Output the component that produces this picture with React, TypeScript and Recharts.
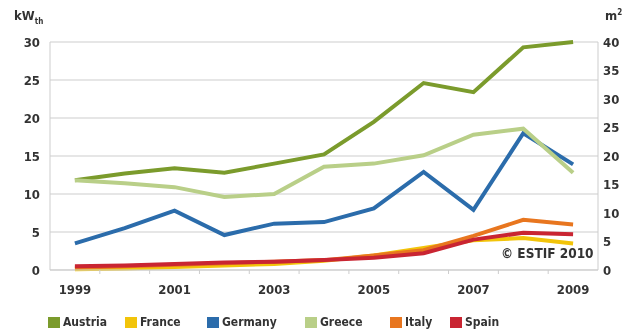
import React from 'react';
import { LineChart, Line, XAxis, YAxis, CartesianGrid } from 'recharts';

// values (left axis, kW_th)
const years = [1999, 2000, 2001, 2002, 2003, 2004, 2005, 2006, 2007, 2008, 2009];
const austria = [11.8, 12.7, 13.4, 12.8, 14.0, 15.2, 19.5, 24.6, 23.4, 29.3, 30.0];
const france = [0.1, 0.2, 0.4, 0.6, 0.8, 1.2, 1.9, 2.9, 3.9, 4.2, 3.5];
const germany = [3.5, 5.5, 7.8, 4.6, 6.1, 6.3, 8.1, 12.9, 7.9, 18.0, 13.9];
const greece = [11.8, 11.4, 10.9, 9.6, 10.0, 13.6, 14.0, 15.1, 17.8, 18.6, 12.8];
const italy = [0.3, 0.5, 0.7, 0.9, 1.1, 1.3, 1.9, 2.6, 4.5, 6.6, 6.0];
const spain = [0.5, 0.6, 0.8, 1.0, 1.1, 1.3, 1.6, 2.2, 4.0, 4.9, 4.7];

const leftTicks = [0, 5, 10, 15, 20, 25, 30];
const rightTicks = [0, 5, 10, 15, 20, 25, 30, 35, 40];
const labelYears = [1999, 2001, 2003, 2005, 2007, 2009];
const boundaryTicks = [1999.5, 2000.5, 2001.5, 2002.5, 2003.5, 2004.5, 2005.5, 2006.5, 2007.5, 2008.5];

const series = [
  { name: 'Austria', values: austria, color: '#7b9b2c' },
  { name: 'France', values: france, color: '#f2c40a' },
  { name: 'Germany', values: germany, color: '#2b6cab' },
  { name: 'Greece', values: greece, color: '#b9cf88' },
  { name: 'Italy', values: italy, color: '#e8761f' },
  { name: 'Spain', values: spain, color: '#c92532' },
];

const font = "'DejaVu Sans Condensed', 'DejaVu Sans', sans-serif";
const narrow = { fontFamily: font, fontStretch: 'condensed' as const };
const textColor = '#333';
const gridColor = '#cdcdcd';

const chartData = years.map((year, i) => {
  const row: Record<string, number> = { year };
  series.forEach((s) => {
    row[s.name] = s.values[i];
  });
  return row;
});

// labels on odd years, small tick marks between years
const YearTick = ({ x, y, payload }: { x?: number; y?: number; payload?: { value: number } }) => {
  const v = payload?.value ?? 0;
  if (Number.isInteger(v)) {
    return (
      <text x={x} y={(y ?? 0) + 24} textAnchor="middle" fill={textColor} fontSize={13} fontWeight="bold" style={narrow}>
        {v}
      </text>
    );
  }
  return <line x1={x} x2={x} y1={y} y2={(y ?? 0) + 4} stroke={gridColor} strokeWidth={1} />;
};

const legendLeft = [48, 125, 207, 305, 390, 450];

export default function App() {
  return (
    <div style={{ position: 'fixed', left: 0, top: 0, width: 622, height: 329, background: '#fff', ...narrow }}>
      <div style={{ position: 'absolute', left: 14, top: 8, fontSize: 13, fontWeight: 'bold', color: textColor }}>
        kW<sub style={{ fontSize: 8 }}>th</sub>
      </div>
      <div style={{ position: 'absolute', left: 605, top: 8, fontSize: 13, fontWeight: 'bold', color: textColor }}>
        m<sup style={{ fontSize: 8 }}>2</sup>
      </div>

      <LineChart width={622} height={300} data={chartData} margin={{ top: 42, right: 0, left: 10, bottom: 0 }}>
        <CartesianGrid vertical={false} stroke={gridColor} yAxisId="left" />
        <XAxis
          dataKey="year"
          type="number"
          domain={[1998.5, 2009.5]}
          ticks={[...labelYears, ...boundaryTicks].sort((a, b) => a - b)}
          interval={0}
          height={30}
          tickSize={0}
          tickMargin={0}
          tickLine={false}
          axisLine={{ stroke: gridColor }}
          tick={<YearTick />}
        />
        <YAxis
          yAxisId="left"
          domain={[0, 30]}
          ticks={leftTicks}
          width={40}
          tickSize={0}
          tickMargin={10}
          axisLine={{ stroke: gridColor }}
          tickLine={false}
          tick={{ fill: textColor, fontSize: 13, fontWeight: 'bold', style: narrow }}
        />
        <YAxis
          yAxisId="right"
          orientation="right"
          type="number"
          domain={[0, 40]}
          allowDataOverflow
          ticks={rightTicks}
          interval={0}
          width={24}
          tickSize={0}
          tickMargin={5}
          axisLine={{ stroke: gridColor }}
          tickLine={false}
          tick={{ fill: textColor, fontSize: 13, fontWeight: 'bold', style: narrow }}
        />
        {series.map((s) => (
          <Line
            key={s.name}
            yAxisId="left"
            type="linear"
            dataKey={s.name}
            stroke={s.color}
            strokeWidth={4}
            dot={false}
            isAnimationActive={false}
          />
        ))}
        {/* invisible series so the m² axis is drawn */}
        <Line yAxisId="right" dataKey="m2" stroke="none" dot={false} legendType="none" isAnimationActive={false} />
      </LineChart>

      <div style={{ position: 'absolute', left: 501, top: 245, fontSize: 13.5, fontWeight: 'bold', color: textColor }}>
        © ESTIF 2010
      </div>

      {series.map((s, i) => (
        <div
          key={s.name}
          style={{ position: 'absolute', left: legendLeft[i], top: 315, display: 'flex', alignItems: 'center', gap: 3 }}
        >
          <span style={{ width: 12, height: 11, background: s.color, display: 'inline-block' }} />
          <span style={{ fontSize: 12, fontWeight: 'bold', color: textColor }}>{s.name}</span>
        </div>
      ))}
    </div>
  );
}
